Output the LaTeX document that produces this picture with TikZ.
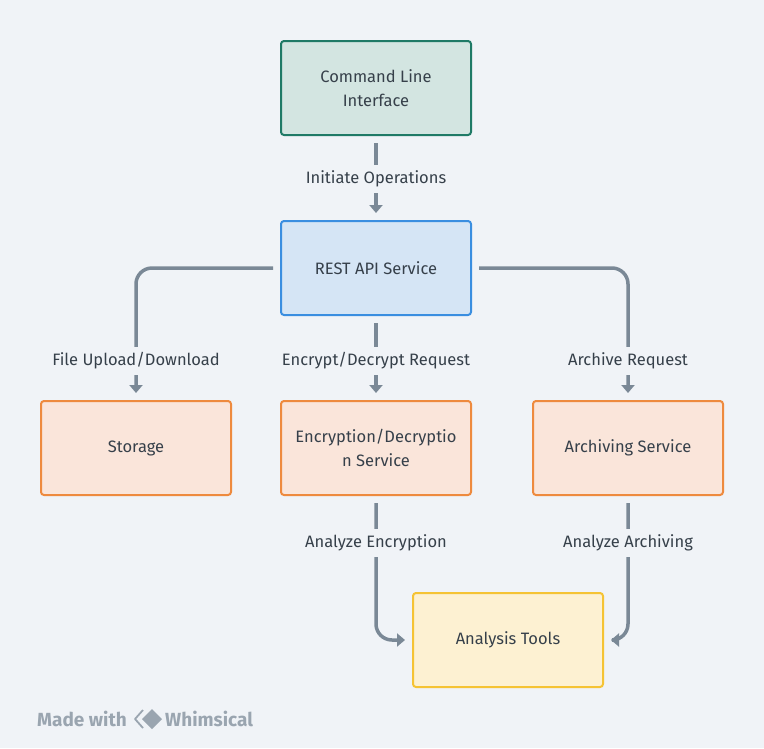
\documentclass[tikz,border=0pt]{standalone}
\usepackage{fontspec}
\setmainfont{Fira Sans}
\usetikzlibrary{arrows.meta}
\definecolor{bg}{HTML}{F0F3F7}
\definecolor{txt}{HTML}{36404A}
\definecolor{wire}{HTML}{7A8896}
\definecolor{logogray}{HTML}{9AA5B0}
\definecolor{tealfill}{HTML}{D3E5E1}
\definecolor{tealline}{HTML}{1F7A66}
\definecolor{bluefill}{HTML}{D5E5F5}
\definecolor{blueline}{HTML}{3A8EE0}
\definecolor{orfill}{HTML}{FAE5DA}
\definecolor{orline}{HTML}{EE8A3E}
\definecolor{yelfill}{HTML}{FDF1D2}
\definecolor{yelline}{HTML}{F5C334}

\begin{document}
\begin{tikzpicture}[x=1pt, y=-1pt,
    box/.style={draw, line width=2pt, rounded corners=3pt, minimum width=190pt,
      minimum height=94pt, align=center, text=txt,
      font=\fontsize{16.5}{24}\selectfont},
    conn/.style={draw=wire, line width=3.5pt, rounded corners=16pt,
      -{Triangle[length=8pt, width=13pt]}, shorten <=7pt, shorten >=7pt},
    lbl/.style={fill=bg, text=txt, inner sep=6pt, font=\fontsize{16.5}{20}\selectfont}]
    \fill [bg] (0,0) rectangle (764,748);
    % boxes
    \node (cli)  [box, fill=tealfill, draw=tealline] at (376,88)  {Command Line\\Interface};
    \node (rest) [box, fill=bluefill, draw=blueline] at (376,268) {REST API Service};
    \node (stor) [box, fill=orfill, draw=orline]     at (136,448) {Storage};
    \node (enc)  [box, fill=orfill, draw=orline]     at (376,448) {Encryption/Decryptio\\n Service};
    \node (arch) [box, fill=orfill, draw=orline]     at (628,448) {Archiving Service};
    \node (ana)  [box, fill=yelfill, draw=yelline]   at (508,640) {Analysis Tools};
    % connectors
    \draw [conn] (cli) -- (rest);
    \draw [conn] (rest.west) -| (stor.north);
    \draw [conn] (rest) -- (enc);
    \draw [conn] (rest.east) -| (arch.north);
    \draw [conn] (enc.south) |- (ana.west);
    \draw [conn] (arch.south) |- (ana.east);
    % labels
    \node (l1) [lbl] at (376,179) {Initiate Operations};
    \node (l2) [lbl] at (136,361) {File Upload/Download};
    \node (l3) [lbl] at (376,361) {Encrypt/Decrypt Request};
    \node (l4) [lbl] at (628,361) {Archive Request};
    \node (l5) [lbl] at (376,543) {Analyze Encryption};
    \node (l6) [lbl] at (628,543) {Analyze Archiving};
    % watermark
    \node (made) [anchor=west, text=logogray, inner sep=0pt, font=\fontsize{19}{22}\selectfont\bfseries] at (37,719) {Made with};
    \draw [logogray, line width=1.8pt, line join=round] (143,710) -- (135,719) -- (143,728);
    \fill [logogray] (152,709) -- (162,719) -- (152,729) -- (142,719) -- cycle;
    \node (whim) [anchor=west, text=logogray, inner sep=0pt, font=\fontsize{19}{22}\selectfont\bfseries] at (165,719) {Whimsical};
\end{tikzpicture}
\end{document}
